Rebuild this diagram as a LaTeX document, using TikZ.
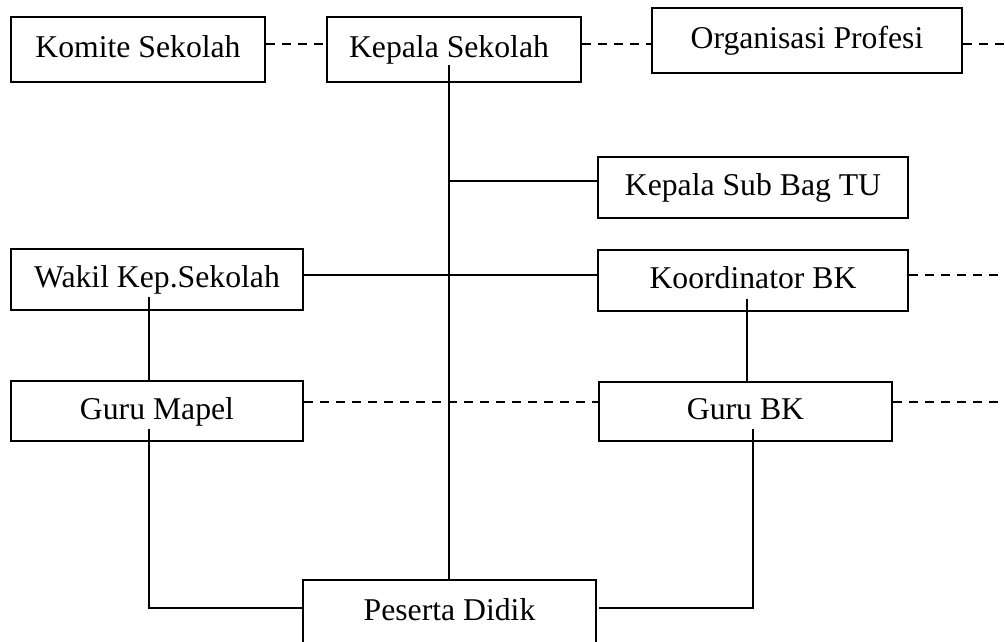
\documentclass[tikz,border=0pt]{standalone}
\usepackage{fontspec}
\setmainfont{Liberation Serif}
\begin{document}
\begin{tikzpicture}[x=1pt,y=-1pt,
  box/.style={draw,line width=1.6pt,inner sep=0pt,minimum width=#1,
    font=\fontsize{31.7}{36}\selectfont,text height=23pt,text depth=7pt},
  conn/.style={line width=1.6pt},
  dashconn/.style={line width=1.6pt,dash pattern=on 9pt off 7pt}]
\useasboundingbox (0,0) rectangle (1005,641);
% boxes
\node[box=254pt,minimum height=65pt] (komite) at (138,49.5) {Komite Sekolah};
\node[box=254pt,minimum height=65pt] (kepala) at (454,49.5) {Kepala Sekolah\hspace*{10pt}};
\node[box=310pt,minimum height=65pt] (org) at (807,40.5) {Organisasi Profesi};
\node[box=310pt,minimum height=61pt] (subbag) at (753,187.5) {Kepala Sub Bag TU};
\node[box=292pt,minimum height=61pt] (wakil) at (157,279.5) {Wakil Kep.Sekolah};
\node[box=310pt,minimum height=61pt] (koord) at (753,280.5) {Koordinator BK};
\node[box=292pt,minimum height=60pt] (mapel) at (157,411) {Guru Mapel};
\node[box=293pt,minimum height=59pt] (gurubk) at (745.5,411.5) {Guru BK};
\node[box=293pt,minimum height=65pt] (peserta) at (449.5,612.5) {Peserta Didik};
% helper coordinates
\coordinate (ytop) at (0,44);
\coordinate (ytu) at (0,181);
\coordinate (ywakil) at (0,275);
\coordinate (yguru) at (0,402);
\coordinate (ypd) at (0,608);
\coordinate (kstart) at (449,65);
\coordinate (wstart) at (149,297);
\coordinate (kbstart) at (747,299);
\coordinate (gmstart) at (149,429);
\coordinate (gbstart) at (753,429);
\coordinate (endtop) at (1005,44);
\coordinate (endkoord) at (1005,275);
\coordinate (endguru) at (1005,402);
\coordinate (pdright) at (599,608);
% dashed connectors
\draw[dashconn] (komite.east |- ytop) -- (kepala.west |- ytop);
\draw[dashconn] (kepala.east |- ytop) -- (org.west |- ytop);
\draw[dashconn] (org.east |- ytop) -- (endtop);
\draw[dashconn] (koord.east |- ywakil) -- (endkoord);
\draw[dashconn] (mapel.east |- yguru) -- (gurubk.west |- yguru);
\draw[dashconn] (gurubk.east |- yguru) -- (endguru);
% solid connectors
\draw[conn] (kstart) -- (kstart |- peserta.north);
\draw[conn] (kstart |- ytu) -- (subbag.west |- ytu);
\draw[conn] (wakil.east |- ywakil) -- (koord.west |- ywakil);
\draw[conn] (wstart) -- (wstart |- mapel.north);
\draw[conn] (kbstart) -- (kbstart |- gurubk.north);
\draw[conn] (gmstart) -- (gmstart |- ypd) -- (peserta.west |- ypd);
\draw[conn] (gbstart) -- (gbstart |- ypd) -- (pdright);
\end{tikzpicture}
\end{document}
